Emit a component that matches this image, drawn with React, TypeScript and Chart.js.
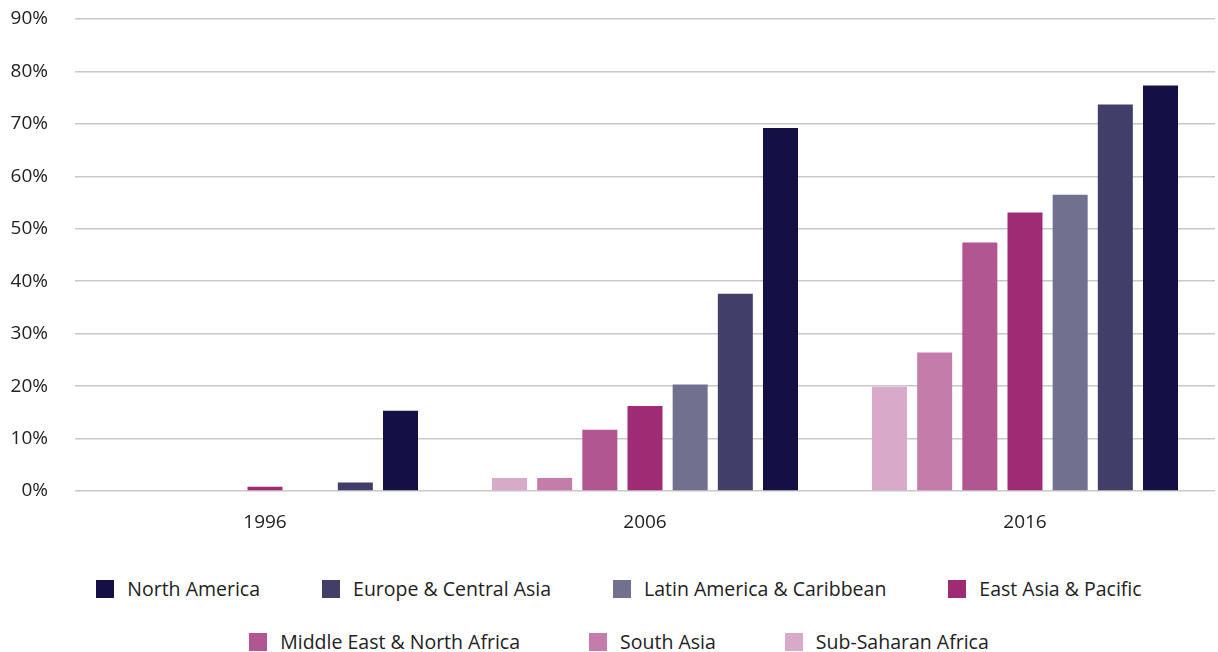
import React, { useEffect, useRef } from "react";
import { Chart, registerables } from "chart.js";

Chart.register(...registerables);

const categories = ["1996", "2006", "2016"];

const seriesNames = [
  "Sub-Saharan Africa",
  "South Asia",
  "Middle East & North Africa",
  "East Asia & Pacific",
  "Latin America & Caribbean",
  "Europe & Central Asia",
  "North America",
];

const subSaharanAfrica = [0, 2.5, 19.9];
const southAsia = [0, 2.5, 26.4];
const middleEastNorthAfrica = [0, 11.7, 47.4];
const eastAsiaPacific = [0.8, 16.2, 53.1];
const latinAmericaCaribbean = [0, 20.3, 56.5];
const europeCentralAsia = [1.6, 37.6, 73.7];
const northAmerica = [15.3, 69.2, 77.3];

const seriesValues = [
  subSaharanAfrica,
  southAsia,
  middleEastNorthAfrica,
  eastAsiaPacific,
  latinAmericaCaribbean,
  europeCentralAsia,
  northAmerica,
];

const seriesColors = [
  "#d9a9ca",
  "#c47dab",
  "#b15690",
  "#9e2b74",
  "#71708f",
  "#423e6a",
  "#141046",
];

const legendRows = [
  ["North America", "Europe & Central Asia", "Latin America & Caribbean", "East Asia & Pacific"],
  ["Middle East & North Africa", "South Asia", "Sub-Saharan Africa"],
];

const FONT = "'Open Sans', 'DejaVu Sans', sans-serif";
const TEXT = "#222222";

export default function App() {
  const canvasRef = useRef<HTMLCanvasElement | null>(null);

  useEffect(() => {
    if (!canvasRef.current) return;
    const chart = new Chart(canvasRef.current, {
      type: "bar",
      data: {
        labels: categories,
        datasets: seriesNames.map((name, i) => ({
          label: name,
          data: seriesValues[i],
          backgroundColor: seriesColors[i],
          borderWidth: 0,
          categoryPercentage: 0.832,
          barPercentage: 0.775,
        })),
      },
      options: {
        responsive: false,
        animation: false,
        devicePixelRatio: 1,
        layout: { padding: { top: 19, bottom: 26, left: 0, right: 3 } },
        plugins: {
          legend: { display: false },
          tooltip: { enabled: false },
        },
        scales: {
          x: {
            grid: { display: false, drawTicks: false },
            border: { display: false },
            afterFit: (scale: any) => {
              scale.height = 43;
            },
            ticks: {
              padding: 20,
              color: TEXT,
              font: { family: FONT, size: 19 },
            },
          },
          y: {
            min: 0,
            max: 90,
            afterFit: (scale: any) => {
              scale.width = 75;
            },
            grid: {
              color: "#c8c8c8",
              lineWidth: 1.5,
              drawTicks: true,
              tickLength: 27,
              tickColor: "rgba(0,0,0,0)",
            },
            border: { display: false },
            ticks: {
              stepSize: 10,
              padding: 0,
              color: TEXT,
              font: { family: FONT, size: 19 },
              callback: (v: any) => v + "%",
            },
          },
        },
      },
    });
    return () => chart.destroy();
  }, []);

  const colorOf = (name: string) => seriesColors[seriesNames.indexOf(name)];
  const rowGaps = [62, 69];

  return (
    <div
      style={{
        position: "absolute",
        left: 0,
        top: 0,
        width: 1218,
        height: 652,
        background: "#fff",
        overflow: "hidden",
        fontFamily: FONT,
      }}
    >
      <canvas ref={canvasRef} width={1218} height={560} style={{ display: "block" }} />
      <div style={{ position: "absolute", left: 20, top: 575, width: 1198 }}>
        {legendRows.map((row, r) => (
          <div
            key={r}
            style={{
              display: "flex",
              justifyContent: "center",
              alignItems: "center",
              height: 28,
              marginBottom: r === 0 ? 25 : 0,
            }}
          >
            {row.map((name, k) => (
              <div
                key={name}
                style={{
                  display: "flex",
                  alignItems: "center",
                  marginLeft: k === 0 ? 0 : rowGaps[r],
                }}
              >
                <span
                  style={{
                    width: 18,
                    height: 18,
                    background: colorOf(name),
                    display: "inline-block",
                    marginRight: 13,
                  }}
                />
                <span style={{ fontSize: 19.5, color: TEXT, lineHeight: "28px", whiteSpace: "nowrap" }}>
                  {name}
                </span>
              </div>
            ))}
          </div>
        ))}
      </div>
    </div>
  );
}
